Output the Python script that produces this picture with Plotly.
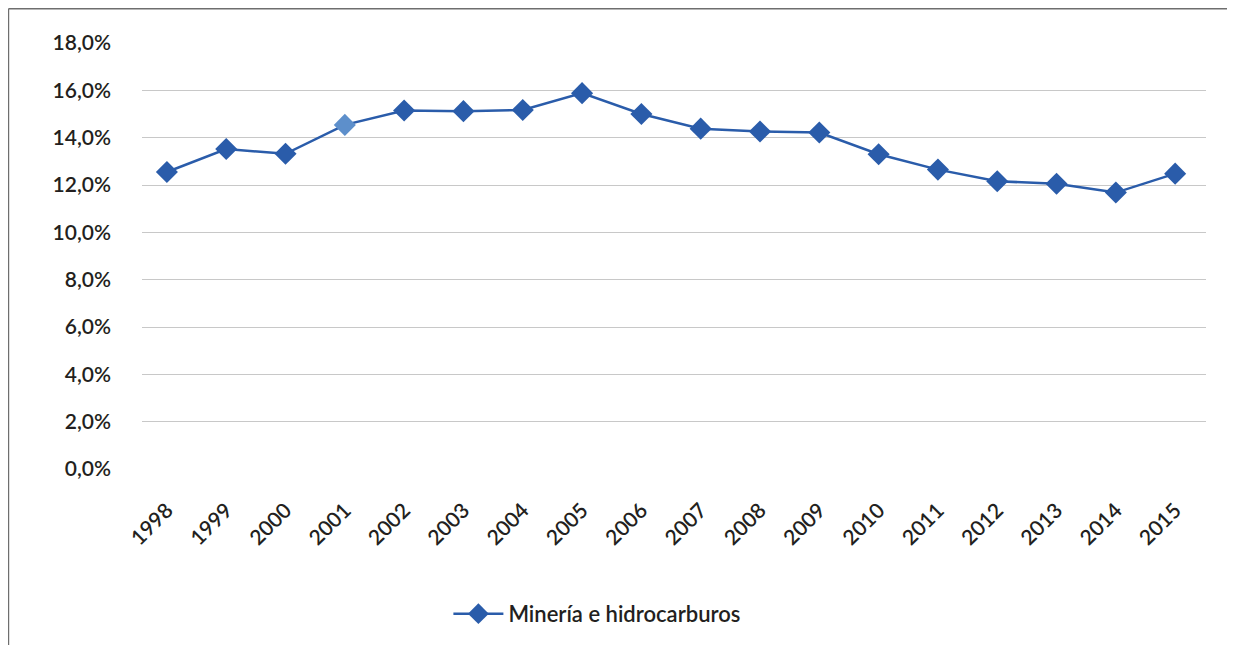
import plotly.graph_objects as go

# data
years = ["1998", "1999", "2000", "2001", "2002", "2003", "2004", "2005", "2006",
         "2007", "2008", "2009", "2010", "2011", "2012", "2013", "2014", "2015"]
share = [0.1255, 0.1352, 0.1332, 0.1454, 0.1515, 0.1512, 0.1517, 0.1588, 0.1500,
         0.1438, 0.1426, 0.1422, 0.1330, 0.1265, 0.1216, 0.1205, 0.1168, 0.1248]
series_name = "Minería e hidrocarburos"
y_ticks = [0, 0.02, 0.04, 0.06, 0.08, 0.10, 0.12, 0.14, 0.16, 0.18]

blue = "#2a5caa"
light_blue = "#5d8fcb"
marker_colors = [light_blue if y == "2001" else blue for y in years]

font_family = "Lato, 'Open Sans', sans-serif"
text_color = "#231f20"
frame_color = "#6e6e6e"

fig = go.Figure()
fig.add_trace(go.Scatter(
    x=years,
    y=share,
    mode="lines+markers",
    name=series_name,
    line=dict(color=blue, width=2.5),
    marker=dict(symbol="diamond", size=17, color=marker_colors,
                line=dict(width=0)),
))

# the page body adds an 8px offset, so the figure is sized to the rest of the window
fig.update_layout(
    width=1227,
    height=637,
    margin=dict(l=134, r=29, t=35, b=175),
    paper_bgcolor="white",
    plot_bgcolor="white",
    separators=",.",
    font=dict(family=font_family, size=21, color=text_color),
    showlegend=True,
    legend=dict(
        orientation="h",
        x=0.428, y=-0.337,
        xanchor="center", yanchor="middle",
        font=dict(size=22, color=text_color, weight=600),
        itemwidth=50,
    ),
    xaxis=dict(
        type="category",
        range=[-0.42, 17.52],
        showgrid=False,
        showline=False,
        ticks="",
        tickangle=-45,
        ticklabelstandoff=24,
        tickfont=dict(size=21, weight=600),
    ),
    yaxis=dict(
        range=[0, 0.18],
        tickvals=y_ticks,
        tickformat=".1%",
        showgrid=True,
        gridcolor="#c8c8c8",
        gridwidth=1,
        zeroline=False,
        showline=False,
        ticks="",
        ticklabelstandoff=30,
        tickfont=dict(size=21, weight=600),
    ),
    shapes=[
        # outer frame: only the top and left edges are visible
        dict(type="line", xref="paper", yref="paper",
             x0=-0.1255, x1=1.1, y0=1.0805, y1=1.0805,
             line=dict(color=frame_color, width=1.5)),
        dict(type="line", xref="paper", yref="paper",
             x0=-0.1255, x1=-0.1255, y0=-0.5, y1=1.0805,
             line=dict(color=frame_color, width=1.5)),
    ],
)

fig.write_html("out.html")
